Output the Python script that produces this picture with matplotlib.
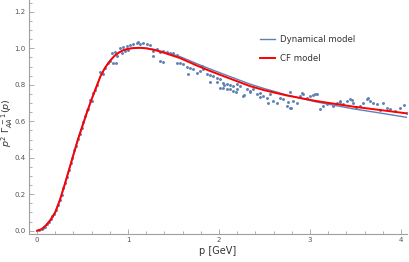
import matplotlib
matplotlib.use("Agg")
import matplotlib.pyplot as plt
from matplotlib.ticker import MultipleLocator, FixedLocator

# ---- model curves ----
p_curve = [0.0, 0.05, 0.1, 0.15, 0.2, 0.25, 0.3, 0.35, 0.4, 0.45, 0.5, 0.55, 0.6,
           0.65, 0.7, 0.75, 0.8, 0.85, 0.9, 0.95, 1.0, 1.05, 1.13, 1.2, 1.3, 1.4,
           1.57, 1.75, 1.9, 2.1, 2.34, 2.5, 2.74, 3.07, 3.48, 3.8, 4.07]
cf_model = [0.0, 0.008, 0.03, 0.06, 0.1, 0.165, 0.245, 0.33, 0.415, 0.5, 0.575,
            0.65, 0.72, 0.785, 0.85, 0.895, 0.93, 0.958, 0.977, 0.99, 0.997, 1.001,
            1.003, 1.0, 0.99, 0.975, 0.947, 0.907, 0.876, 0.838, 0.793, 0.77, 0.742,
            0.711, 0.68, 0.66, 0.643]
dyn_model = [0.0, 0.009, 0.032, 0.063, 0.104, 0.17, 0.25, 0.335, 0.42, 0.505, 0.58,
             0.654, 0.723, 0.788, 0.851, 0.896, 0.931, 0.958, 0.977, 0.99, 0.997, 1.001,
             1.003, 1.001, 0.993, 0.979, 0.955, 0.917, 0.887, 0.849, 0.804, 0.779, 0.745,
             0.706, 0.668, 0.643, 0.621]

# ---- lattice data points ----
p_data = [0.02, 0.05, 0.07, 0.09, 0.11, 0.13, 0.15, 0.17, 0.19, 0.21, 0.23, 0.25,
          0.27, 0.29, 0.31, 0.33, 0.35, 0.37, 0.39, 0.41, 0.43, 0.45, 0.47, 0.49,
          0.51, 0.53, 0.545, 0.56, 0.58, 0.60, 0.62, 0.637, 0.66, 0.69, 0.71, 0.73,
          0.75, 0.78, 0.80, 0.82, 0.835, 0.857, 0.865, 0.88, 0.912, 0.93, 0.949,
          0.97, 0.985, 1.0, 1.022, 1.059, 1.095, 1.114, 1.132, 1.168, 1.205, 1.242,
          1.278, 1.315, 1.352, 1.388, 1.425, 1.462, 1.498, 1.535, 1.352, 1.388,
          1.278, 1.535, 1.571, 1.608, 1.645, 1.681, 1.718, 1.663, 1.755, 1.791,
          1.81, 1.828, 1.864, 1.901, 1.938, 1.974, 2.011, 2.048, 2.084, 2.121,
          2.158, 2.194, 2.048, 2.084, 2.121, 2.158, 2.194, 2.231, 2.267, 2.304,
          2.341, 2.377, 2.414, 2.451, 2.487, 2.524, 2.56, 2.597, 2.634, 2.67,
          2.707, 2.744, 2.78, 2.817, 2.853, 2.89, 2.927, 2.963, 3.0, 3.037, 3.055,
          3.073, 3.11, 3.147, 3.183, 3.256, 3.293, 3.33, 3.366, 3.403, 3.44, 3.476,
          3.51, 3.549, 3.586, 3.623, 3.64, 3.659, 3.696, 3.733, 3.77, 3.806, 3.842,
          3.879, 3.93, 3.989, 4.03, 4.062, 1.90, 1.975, 2.01, 2.05, 2.19, 2.27,
          2.34, 2.45, 2.54, 2.76, 2.78, 2.79, 2.91, 3.33, 3.46, 3.51]
v_data = [0.002, 0.008, 0.014, 0.022, 0.036, 0.05, 0.062, 0.08, 0.093, 0.112, 0.14,
          0.168, 0.197, 0.232, 0.26, 0.295, 0.335, 0.37, 0.40, 0.44, 0.465, 0.505,
          0.53, 0.562, 0.598, 0.63, 0.662, 0.665, 0.717, 0.71, 0.753, 0.771, 0.80,
          0.872, 0.863, 0.86, 0.89, 0.918, 0.93, 0.976, 0.921, 0.981, 0.921, 0.96,
          1.0, 0.975, 1.005, 0.985, 1.012, 0.99, 1.016, 1.022, 1.027, 1.035, 1.022,
          1.027, 1.022, 1.016, 0.985, 0.994, 0.98, 0.985, 0.98, 0.972, 0.976, 0.961,
          0.93, 0.925, 0.958, 0.921, 0.921, 0.912, 0.899, 0.894, 0.888, 0.862,
          0.866, 0.875, 0.903, 0.885, 0.857, 0.852, 0.848, 0.839, 0.83, 0.811, 0.802,
          0.797, 0.793, 0.802, 0.784, 0.775, 0.778, 0.766, 0.775, 0.793, 0.738,
          0.778, 0.766, 0.775, 0.748, 0.757, 0.738, 0.729, 0.748, 0.711, 0.702,
          0.729, 0.72, 0.684, 0.675, 0.711, 0.702, 0.738, 0.748, 0.729, 0.738,
          0.742, 0.749, 0.748, 0.666, 0.684, 0.693, 0.684, 0.702, 0.711, 0.693,
          0.711, 0.72, 0.702, 0.677, 0.684, 0.702, 0.72, 0.726, 0.711, 0.702, 0.693,
          0.662, 0.702, 0.675, 0.666, 0.658, 0.675, 0.689, 0.648, 0.817, 0.817, 0.78,
          0.80, 0.762, 0.744, 0.762, 0.735, 0.702, 0.707, 0.762, 0.674, 0.755, 0.707,
          0.717, 0.677]

x_major = [0, 1, 2, 3, 4]
y_major = [0.0, 0.2, 0.4, 0.6, 0.8, 1.0, 1.2]

BLUE = "#5E81B5"
GRAY = "#a0a0a0"
TXT = "#555555"

fig = plt.figure(figsize=(4.10, 2.62), dpi=100)
ax = fig.add_axes([29 / 410, 28 / 262, 378 / 410, 234 / 262])

ax.scatter(p_data, v_data, s=4.5, color=BLUE, linewidths=0, zorder=2)
ax.plot(p_curve, dyn_model, color=BLUE, lw=1.0, zorder=3, label="Dynamical model")
ax.plot(p_curve, cf_model, color="#FF0000", lw=1.4, zorder=4, label="CF model")

ax.set_xlim(-0.088, 4.066)
ax.set_ylim(-0.018, 1.265)

ax.xaxis.set_major_locator(FixedLocator(x_major))
ax.xaxis.set_minor_locator(MultipleLocator(0.2))
ax.yaxis.set_major_locator(FixedLocator(y_major))
ax.yaxis.set_minor_locator(MultipleLocator(0.05))
ax.set_xticklabels([str(v) for v in x_major])
ax.set_yticklabels(["%.1f" % v for v in y_major])

for s in ["top", "right"]:
    ax.spines[s].set_visible(False)
for s in ["left", "bottom"]:
    ax.spines[s].set_color(GRAY)
    ax.spines[s].set_linewidth(0.8)

ax.tick_params(which="both", direction="in", color=GRAY, width=0.6,
               labelsize=5, labelcolor=TXT)
ax.tick_params(which="major", length=3.5, pad=2.5)
ax.tick_params(which="minor", length=2)

ax.set_xlabel("p [GeV]", fontsize=7, color="#333333", labelpad=2)
fig.text(7 / 410, 1 - 123 / 262, r"$p^2\ \Gamma_{AA}^{\ -1}(p)$", fontsize=6.8,
         color="#333333", rotation=90, ha="center", va="center")

ax.legend(loc="upper left", bbox_to_anchor=(260 / 410, 1 - 35 / 262),
          bbox_transform=fig.transFigure, frameon=False, fontsize=6.2,
          handlelength=1.75, handletextpad=0.6, labelspacing=1.15,
          borderpad=0, borderaxespad=0, labelcolor="#333333")

fig.savefig("out.png", dpi=100)
